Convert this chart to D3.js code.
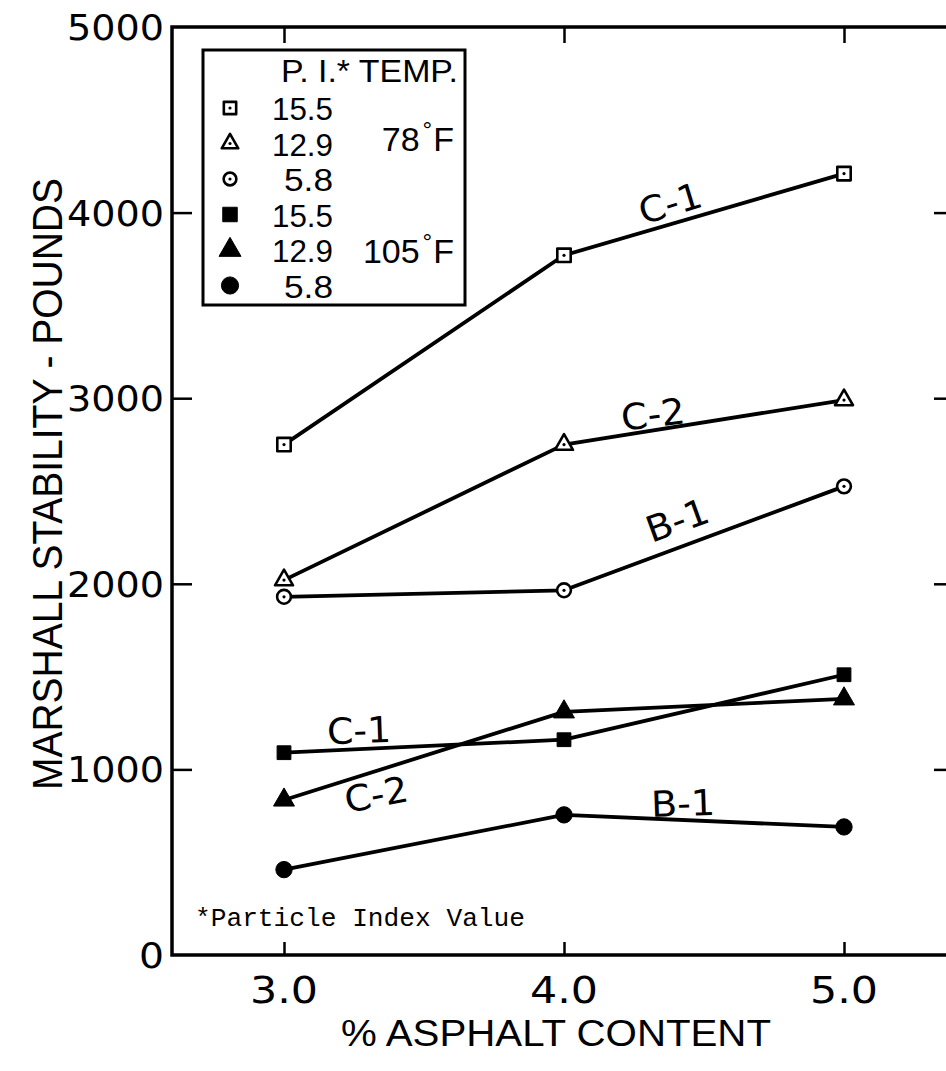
<!DOCTYPE html>
<html><head><meta charset="utf-8">
<script src="https://cdn.jsdelivr.net/npm/d3@7"></script>
<style>html,body{margin:0;padding:0;background:#fff;}svg{display:block;}</style>
</head><body>
<svg id="chart" width="946" height="1071"></svg>
<script>
// ---- data ----
const asphalt = [3.0, 4.0, 5.0];
const xTicks = [3.0, 4.0, 5.0];
const xTickLabels = ["3.0", "4.0", "5.0"];
const yTicks = [0, 1000, 2000, 3000, 4000, 5000];
const yTickLabels = ["0", "1000", "2000", "3000", "4000", "5000"];
const c1_78 = [2750, 3770, 4210];
const c2_78 = [2020, 2750, 2990];
const b1_78 = [1930, 1965, 2525];
const c1_105 = [1090, 1160, 1510];
const c2_105 = [835, 1310, 1380];
const b1_105 = [460, 755, 690];
const legendPI = ["15.5", "12.9", "5.8", "15.5", "12.9", "5.8"];
const legendTemps = ["78", "105"];
const curveNames = ["C-1", "C-2", "B-1", "C-1", "C-2", "B-1"];
// label anchors (data units) and tilt
const labelX = [4.379, 4.318, 4.404, 3.268, 3.329, 4.425];
const labelY = [4052, 2915, 2344, 1212, 867, 819];
const labelRot = [-17, -7, -20, -2, -11, -2];

const series = [
  {vals: c1_78, shape: "square", filled: false},
  {vals: c2_78, shape: "triangle", filled: false},
  {vals: b1_78, shape: "circle", filled: false},
  {vals: c1_105, shape: "square", filled: true},
  {vals: c2_105, shape: "triangle", filled: true},
  {vals: b1_105, shape: "circle", filled: true}
];

const svg = d3.select("#chart");
const x = d3.scaleLinear().domain([2.6, 5.4]).range([172, 956]);
const y = d3.scaleLinear().domain([0, 5000]).range([955, 27]);

const geoFont = "'DejaVu Sans', sans-serif";
const helv = "'Liberation Sans', Arial, sans-serif";

// frame
svg.append("rect").attr("x", x(2.6)).attr("y", y(5000))
  .attr("width", x(5.4) - x(2.6)).attr("height", y(0) - y(5000))
  .attr("fill", "none").attr("stroke", "#000").attr("stroke-width", 3.5);

// axes with inward ticks
const gb = svg.append("g").attr("transform", `translate(0,${y(0)})`)
  .call(d3.axisTop(x).tickValues(xTicks).tickSize(13).tickFormat(""));
const gt = svg.append("g").attr("transform", `translate(0,${y(5000)})`)
  .call(d3.axisBottom(x).tickValues(xTicks).tickSize(16).tickFormat(""));
const gl = svg.append("g").attr("transform", `translate(${x(2.6)},0)`)
  .call(d3.axisRight(y).tickValues(yTicks.slice(1, 5)).tickSize(20).tickFormat(""));
const gr = svg.append("g").attr("transform", `translate(${x(5.4)},0)`)
  .call(d3.axisLeft(y).tickValues(yTicks.slice(1, 5)).tickSize(22).tickFormat(""));
[gb, gt, gl, gr].forEach(g => {
  g.select(".domain").remove();
  g.selectAll("line").attr("stroke", "#000").attr("stroke-width", 2.5);
});

// y tick labels
yTicks.forEach((v, i) => {
  const t = svg.append("text").attr("x", 164).attr("y", y(v) + 13)
    .attr("text-anchor", "end").attr("font-family", geoFont).attr("font-size", 36)
    .attr("fill", "#000").text(yTickLabels[i]);
  t.attr("textLength", yTickLabels[i].length === 4 ? 97 : 25).attr("lengthAdjust", "spacingAndGlyphs");
});
// x tick labels
xTicks.forEach((v, i) => {
  svg.append("text").attr("x", x(v)).attr("y", 1003)
    .attr("text-anchor", "middle").attr("font-family", geoFont).attr("font-size", 37)
    .attr("textLength", 68).attr("lengthAdjust", "spacingAndGlyphs")
    .attr("fill", "#000").text(xTickLabels[i]);
});

// axis titles
svg.append("text").attr("x", 556).attr("y", 1046).attr("text-anchor", "middle")
  .attr("font-family", helv).attr("font-size", 37)
  .attr("textLength", 430).attr("lengthAdjust", "spacingAndGlyphs")
  .attr("fill", "#000").text("% ASPHALT CONTENT");
svg.append("text").attr("transform", "translate(62,484) rotate(-90)")
  .attr("text-anchor", "middle").attr("font-family", helv).attr("font-size", 42)
  .attr("textLength", 612).attr("lengthAdjust", "spacingAndGlyphs")
  .attr("fill", "#000").text("MARSHALL STABILITY - POUNDS");

// footnote
svg.append("text").attr("x", 195).attr("y", 926)
  .attr("font-family", "'Liberation Mono', 'DejaVu Sans Mono', monospace").attr("font-size", 26)
  .attr("textLength", 330).attr("lengthAdjust", "spacingAndGlyphs")
  .attr("fill", "#000").text("*Particle Index Value");

// marker helper
function symbolType(shape) {
  return shape === "square" ? d3.symbolSquare : shape === "triangle" ? d3.symbolTriangle : d3.symbolCircle;
}
function symbolSize(shape, filled) {
  if (shape === "square") return filled ? 190 : 180;
  if (shape === "triangle") return filled ? 190 : 140;
  return filled ? 210 : 150;
}
function drawMarker(g, cx, cy, shape, filled, scale) {
  const s = scale || 1;
  g.append("path").attr("transform", `translate(${cx},${cy})`)
    .attr("d", d3.symbol().type(symbolType(shape)).size(symbolSize(shape, filled) * s * s)())
    .attr("fill", filled ? "#000" : "#fff").attr("stroke", "#000")
    .attr("stroke-width", filled ? 1 : 2.6).attr("stroke-linejoin", "round");
  if (!filled) g.append("circle").attr("cx", cx).attr("cy", cy).attr("r", 1.6).attr("fill", "#000");
}

// lines
const line = d3.line().x((d, i) => x(asphalt[i])).y(d => y(d));
const gLines = svg.append("g");
series.forEach(s => {
  gLines.append("path").attr("d", line(s.vals)).attr("fill", "none")
    .attr("stroke", "#000").attr("stroke-width", 3.8).attr("stroke-linejoin", "round");
});
const gMarks = svg.append("g");
series.forEach(s => {
  s.vals.forEach((v, i) => drawMarker(gMarks, x(asphalt[i]), y(v), s.shape, s.filled));
});

// curve labels
curveNames.forEach((n, i) => {
  svg.append("text")
    .attr("transform", `translate(${x(labelX[i])},${y(labelY[i])}) rotate(${labelRot[i]})`)
    .attr("text-anchor", "middle").attr("dy", "0.36em")
    .attr("font-family", geoFont).attr("font-size", 36)
    .attr("textLength", 64).attr("lengthAdjust", "spacingAndGlyphs")
    .attr("fill", "#000").text(n);
});

// legend
const lg = svg.append("g");
lg.append("rect").attr("x", 203).attr("y", 50).attr("width", 262).attr("height", 255)
  .attr("fill", "#fff").attr("stroke", "#000").attr("stroke-width", 3);
lg.append("text").attr("x", 281).attr("y", 82).attr("font-family", helv).attr("font-size", 31)
  .attr("textLength", 177).attr("lengthAdjust", "spacingAndGlyphs").attr("fill", "#000")
  .text("P. I.* TEMP.");
legendPI.forEach((p, i) => {
  const base = 120 + i * 35.5;
  lg.append("text").attr("x", 333).attr("y", base).attr("text-anchor", "end")
    .attr("font-family", helv).attr("font-size", 31.5)
    .attr("textLength", p.length === 4 ? 61 : 49).attr("lengthAdjust", "spacingAndGlyphs")
    .attr("fill", "#000").text(p);
  const s = series[i];
  drawMarker(lg, 230, base - 12, s.shape, s.filled, s.filled ? 1.05 : 0.92);
});
legendTemps.forEach((t, i) => {
  const base = i === 0 ? 151 : 263;
  const tx = lg.append("text").attr("x", 454).attr("y", base).attr("text-anchor", "end")
    .attr("font-family", helv).attr("font-size", 34).attr("fill", "#000");
  tx.append("tspan").text(t);
  tx.append("tspan").attr("font-size", 24).attr("dy", -13).attr("dx", 3).text("°");
  tx.append("tspan").attr("dy", 13).attr("dx", 1).text("F");
});
</script>
</body></html>
